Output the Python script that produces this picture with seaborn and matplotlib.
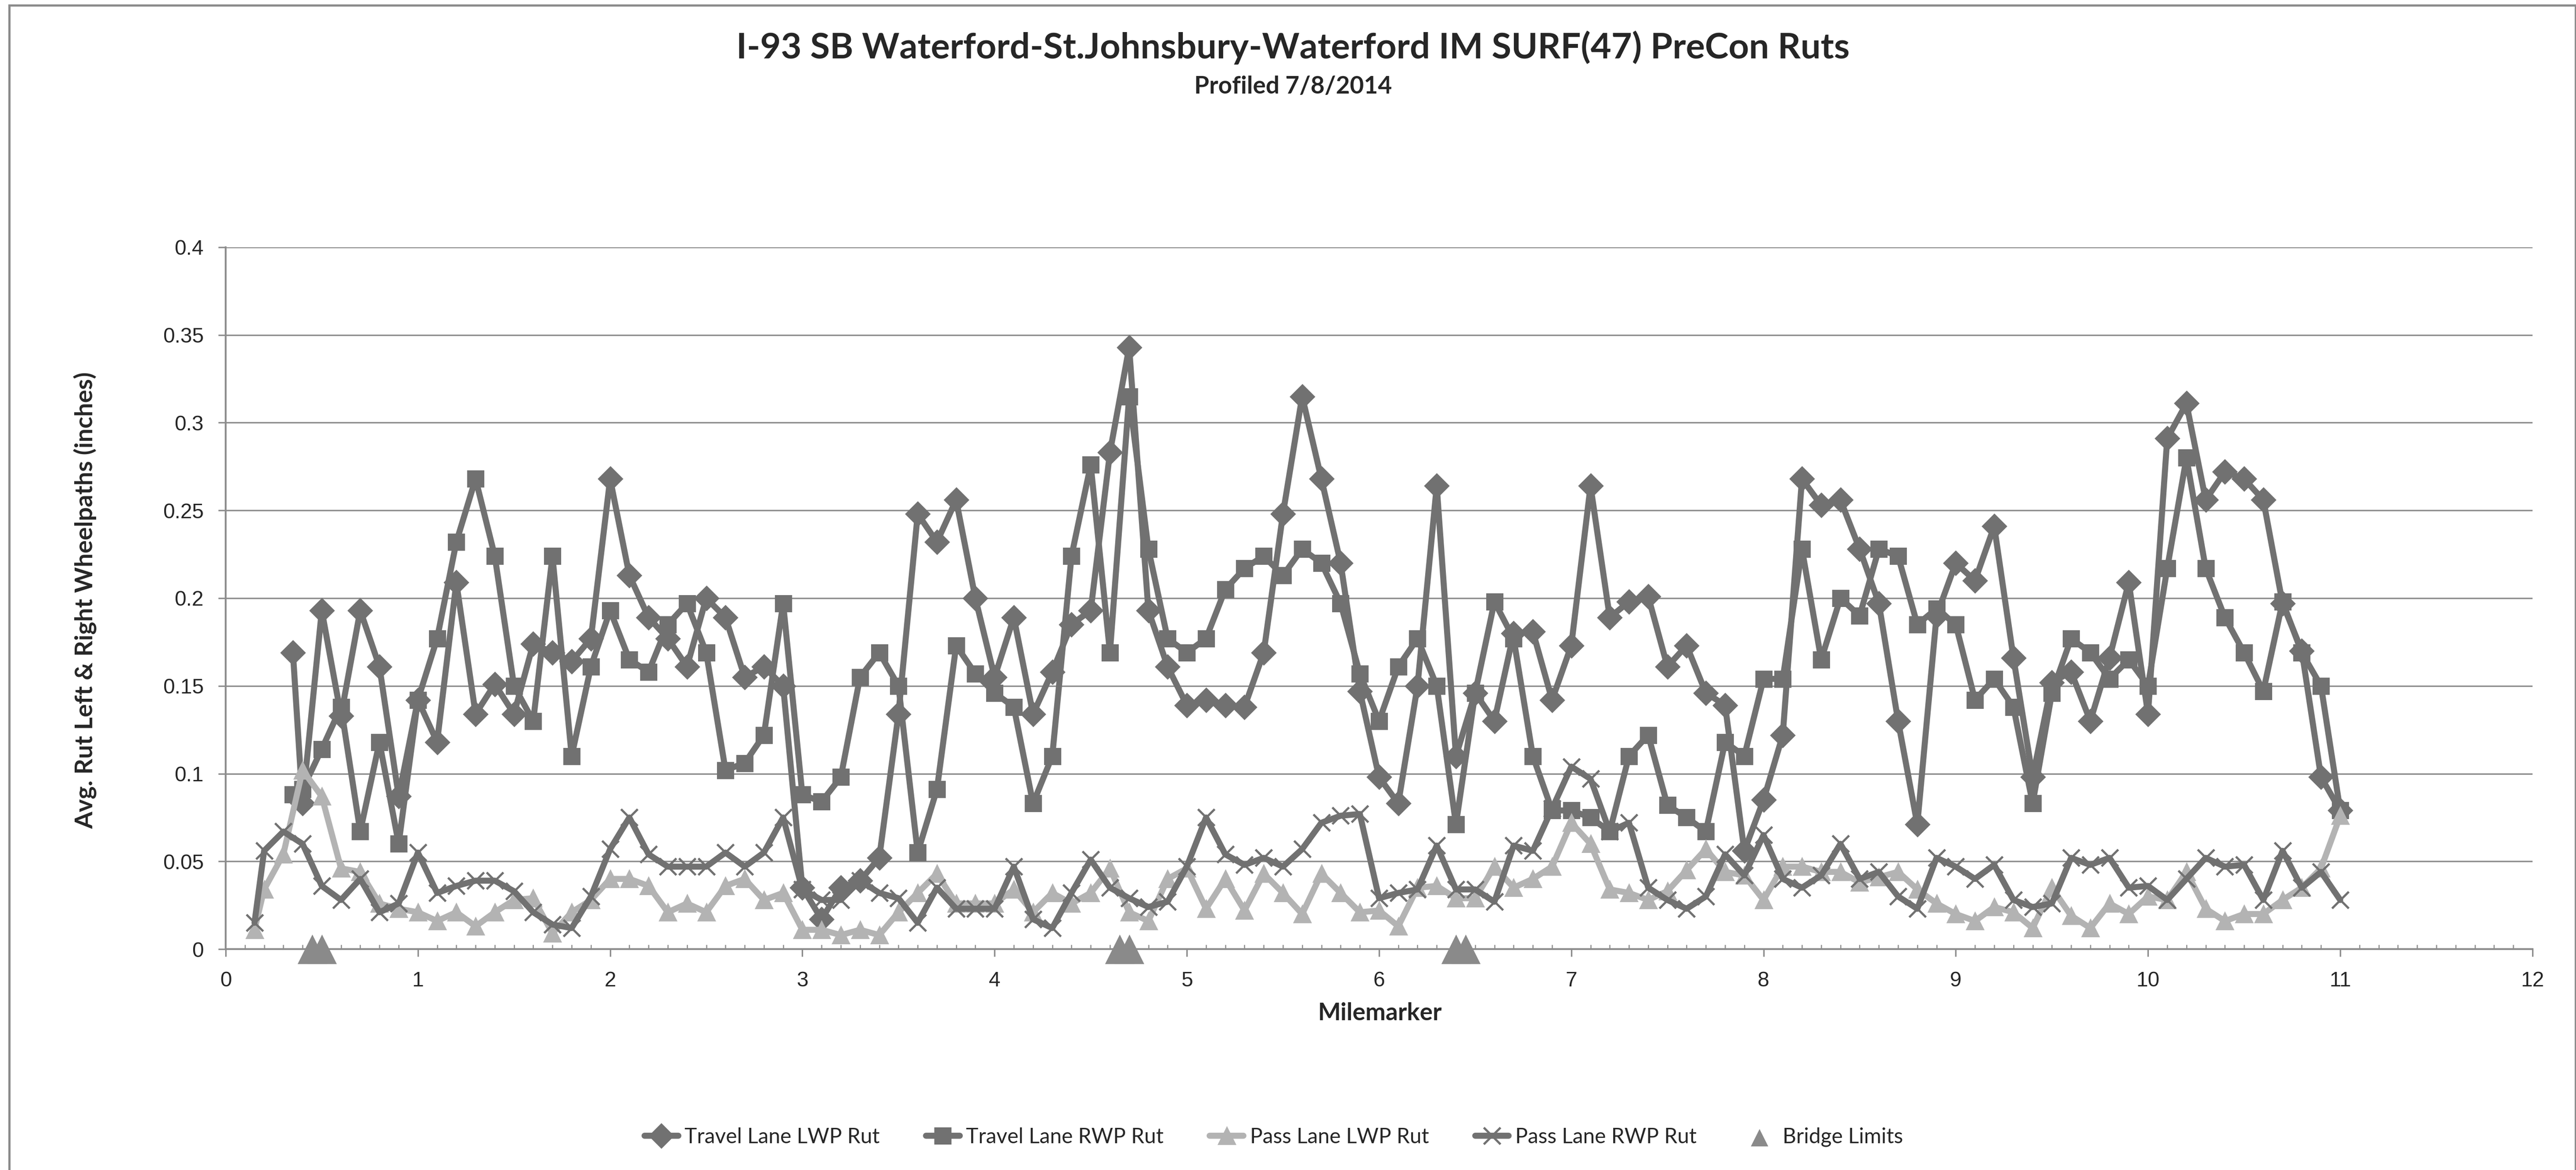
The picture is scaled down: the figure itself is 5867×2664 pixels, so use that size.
import matplotlib
matplotlib.use("Agg")
import matplotlib.pyplot as plt
import seaborn as sns
from matplotlib.patches import Rectangle

# mile markers for travel lanes (first reading at 0.35)
travel_miles = [0.35, 0.4, 0.5, 0.6, 0.7, 0.8, 0.9, 1.0, 1.1, 1.2, 1.3, 1.4, 1.5, 1.6, 1.7, 1.8, 1.9,
                2.0, 2.1, 2.2, 2.3, 2.4, 2.5, 2.6, 2.7, 2.8, 2.9, 3.0, 3.1, 3.2, 3.3, 3.4, 3.5, 3.6, 3.7, 3.8, 3.9,
                4.0, 4.1, 4.2, 4.3, 4.4, 4.5, 4.6, 4.7, 4.8, 4.9, 5.0, 5.1, 5.2, 5.3, 5.4, 5.5, 5.6, 5.7, 5.8, 5.9,
                6.0, 6.1, 6.2, 6.3, 6.4, 6.5, 6.6, 6.7, 6.8, 6.9, 7.0, 7.1, 7.2, 7.3, 7.4, 7.5, 7.6, 7.7, 7.8, 7.9,
                8.0, 8.1, 8.2, 8.3, 8.4, 8.5, 8.6, 8.7, 8.8, 8.9, 9.0, 9.1, 9.2, 9.3, 9.4, 9.5, 9.6, 9.7, 9.8, 9.9,
                10.0, 10.1, 10.2, 10.3, 10.4, 10.5, 10.6, 10.7, 10.8, 10.9, 11.0]

travel_lwp = [0.169, 0.083, 0.193, 0.133, 0.193, 0.161, 0.087, 0.142, 0.118, 0.209, 0.134, 0.151, 0.134, 0.174, 0.169, 0.164, 0.177,
              0.268, 0.213, 0.189, 0.177, 0.161, 0.200, 0.189, 0.155, 0.161, 0.150, 0.035, 0.017, 0.035, 0.039, 0.052, 0.134, 0.248, 0.232, 0.256, 0.200,
              0.155, 0.189, 0.134, 0.158, 0.185, 0.193, 0.283, 0.343, 0.193, 0.161, 0.139, 0.142, 0.139, 0.138, 0.169, 0.248, 0.315, 0.268, 0.220, 0.147,
              0.098, 0.083, 0.150, 0.264, 0.110, 0.146, 0.130, 0.180, 0.181, 0.142, 0.173, 0.264, 0.189, 0.198, 0.201, 0.161, 0.173, 0.146, 0.139, 0.056,
              0.085, 0.122, 0.268, 0.253, 0.256, 0.228, 0.197, 0.130, 0.071, 0.190, 0.220, 0.210, 0.241, 0.166, 0.098, 0.152, 0.158, 0.130, 0.166, 0.209,
              0.134, 0.291, 0.311, 0.256, 0.272, 0.268, 0.256, 0.197, 0.170, 0.098, 0.079]

travel_rwp = [0.088, 0.091, 0.114, 0.138, 0.067, 0.118, 0.060, 0.142, 0.177, 0.232, 0.268, 0.224, 0.150, 0.130, 0.224, 0.110, 0.161,
              0.193, 0.165, 0.158, 0.185, 0.197, 0.169, 0.102, 0.106, 0.122, 0.197, 0.088, 0.084, 0.098, 0.155, 0.169, 0.150, 0.055, 0.091, 0.173, 0.157,
              0.146, 0.138, 0.083, 0.110, 0.224, 0.276, 0.169, 0.315, 0.228, 0.177, 0.169, 0.177, 0.205, 0.217, 0.224, 0.213, 0.228, 0.220, 0.197, 0.157,
              0.130, 0.161, 0.177, 0.150, 0.071, 0.146, 0.198, 0.177, 0.110, 0.079, 0.079, 0.075, 0.067, 0.110, 0.122, 0.082, 0.075, 0.067, 0.118, 0.110,
              0.154, 0.154, 0.228, 0.165, 0.200, 0.190, 0.228, 0.224, 0.185, 0.194, 0.185, 0.142, 0.154, 0.138, 0.083, 0.146, 0.177, 0.169, 0.154, 0.165,
              0.150, 0.217, 0.280, 0.217, 0.189, 0.169, 0.147, 0.198, 0.169, 0.150, 0.079]

# mile markers for passing lane (first reading at 0.15)
pass_miles = [0.15, 0.2, 0.3, 0.4, 0.5, 0.6, 0.7, 0.8, 0.9, 1.0, 1.1, 1.2, 1.3, 1.4, 1.5, 1.6, 1.7, 1.8, 1.9,
              2.0, 2.1, 2.2, 2.3, 2.4, 2.5, 2.6, 2.7, 2.8, 2.9, 3.0, 3.1, 3.2, 3.3, 3.4, 3.5, 3.6, 3.7, 3.8, 3.9,
              4.0, 4.1, 4.2, 4.3, 4.4, 4.5, 4.6, 4.7, 4.8, 4.9, 5.0, 5.1, 5.2, 5.3, 5.4, 5.5, 5.6, 5.7, 5.8, 5.9,
              6.0, 6.1, 6.2, 6.3, 6.4, 6.5, 6.6, 6.7, 6.8, 6.9, 7.0, 7.1, 7.2, 7.3, 7.4, 7.5, 7.6, 7.7, 7.8, 7.9,
              8.0, 8.1, 8.2, 8.3, 8.4, 8.5, 8.6, 8.7, 8.8, 8.9, 9.0, 9.1, 9.2, 9.3, 9.4, 9.5, 9.6, 9.7, 9.8, 9.9,
              10.0, 10.1, 10.2, 10.3, 10.4, 10.5, 10.6, 10.7, 10.8, 10.9, 11.0]

pass_lwp = [0.011, 0.034, 0.054, 0.102, 0.087, 0.046, 0.044, 0.026, 0.023, 0.021, 0.016, 0.021, 0.013, 0.021, 0.028, 0.029, 0.009, 0.021, 0.028,
            0.040, 0.040, 0.036, 0.021, 0.026, 0.021, 0.036, 0.040, 0.028, 0.032, 0.011, 0.011, 0.008, 0.011, 0.008, 0.021, 0.032, 0.043, 0.026, 0.026,
            0.026, 0.034, 0.021, 0.032, 0.026, 0.032, 0.046, 0.021, 0.016, 0.040, 0.046, 0.023, 0.040, 0.022, 0.043, 0.032, 0.020, 0.043, 0.032, 0.021,
            0.022, 0.013, 0.035, 0.036, 0.029, 0.029, 0.047, 0.035, 0.040, 0.047, 0.072, 0.060, 0.034, 0.032, 0.028, 0.033, 0.045, 0.057, 0.044, 0.042,
            0.028, 0.047, 0.047, 0.044, 0.044, 0.038, 0.041, 0.044, 0.034, 0.026, 0.020, 0.016, 0.024, 0.021, 0.012, 0.035, 0.019, 0.012, 0.026, 0.020,
            0.030, 0.028, 0.044, 0.023, 0.016, 0.020, 0.020, 0.028, 0.035, 0.046, 0.076]

pass_rwp = [0.015, 0.056, 0.067, 0.060, 0.036, 0.028, 0.040, 0.021, 0.026, 0.055, 0.032, 0.036, 0.039, 0.039, 0.033, 0.021, 0.014, 0.012, 0.030,
            0.057, 0.075, 0.054, 0.047, 0.047, 0.047, 0.055, 0.047, 0.055, 0.075, 0.034, 0.028, 0.028, 0.039, 0.032, 0.029, 0.015, 0.035, 0.023, 0.023,
            0.023, 0.047, 0.017, 0.012, 0.032, 0.051, 0.035, 0.029, 0.024, 0.027, 0.047, 0.075, 0.054, 0.048, 0.052, 0.047, 0.057, 0.072, 0.076, 0.077,
            0.029, 0.032, 0.034, 0.059, 0.034, 0.034, 0.027, 0.059, 0.056, 0.080, 0.104, 0.097, 0.067, 0.072, 0.035, 0.028, 0.023, 0.030, 0.054, 0.042,
            0.065, 0.040, 0.035, 0.042, 0.060, 0.040, 0.044, 0.030, 0.023, 0.052, 0.047, 0.040, 0.048, 0.028, 0.024, 0.026, 0.052, 0.048, 0.052, 0.035,
            0.036, 0.028, 0.040, 0.052, 0.047, 0.048, 0.028, 0.056, 0.035, 0.044, 0.028]

bridge_miles = [0.45, 0.5, 4.65, 4.7, 6.4, 6.45]
bridge_vals = [0, 0, 0, 0, 0, 0]

sns.set_style("white")
plt.rcParams['font.family'] = ['Liberation Sans', 'DejaVu Sans']

dark = '#717171'
light = '#b3b3b3'
bridge_col = '#8a8a8a'
grid_col = '#8c8c8c'

fig = plt.figure(figsize=(5867 / 300, 2664 / 300), dpi=300)
ax = fig.add_axes([0.0876, 0.1888, 0.8955, 0.5999])

lw = 3.3
line_kw = dict(ax=ax, sort=False, lw=lw, solid_joinstyle='round', solid_capstyle='round', zorder=3)
sns.lineplot(x=travel_miles, y=travel_lwp, color=dark, marker='D', markersize=9,
             markeredgecolor=dark, label='Travel Lane LWP Rut', **line_kw)
sns.lineplot(x=travel_miles, y=travel_rwp, color=dark, marker='s', markersize=8.5,
             markeredgecolor=dark, label='Travel Lane RWP Rut', **line_kw)
sns.lineplot(x=pass_miles, y=pass_lwp, color=light, marker='^', markersize=9,
             markeredgecolor=light, label='Pass Lane LWP Rut', **line_kw)
sns.lineplot(x=pass_miles, y=pass_rwp, color=dark, marker='x', markersize=9, markeredgewidth=1.2,
             markeredgecolor=dark, label='Pass Lane RWP Rut', **line_kw)
sns.scatterplot(x=bridge_miles, y=bridge_vals, ax=ax, marker='^', s=260, color=bridge_col,
                linewidth=0, clip_on=False, label='Bridge Limits', zorder=4)

ax.set_xlim(0, 12)
ax.set_ylim(0, 0.4)
ax.set_xticks(range(0, 13))
ax.set_xticks([i / 10 for i in range(0, 121)], minor=True)
ax.set_yticks([0, 0.05, 0.1, 0.15, 0.2, 0.25, 0.3, 0.35, 0.4])
ax.set_yticklabels(['0', '0.05', '0.1', '0.15', '0.2', '0.25', '0.3', '0.35', '0.4'])
ax.yaxis.grid(True, color=grid_col, lw=0.8)
ax.xaxis.grid(False)
ax.set_axisbelow(True)

for side in ['top', 'right']:
    ax.spines[side].set_visible(False)
for side in ['left', 'bottom']:
    ax.spines[side].set_color(grid_col)
    ax.spines[side].set_linewidth(1.0)

ax.tick_params(axis='y', which='major', direction='out', length=4, width=0.8, color=grid_col,
               labelsize=11.5, pad=8, left=True)
ax.tick_params(axis='x', which='major', direction='out', length=4, width=0.8, color=grid_col,
               labelsize=11.5, pad=8, bottom=True)
ax.tick_params(axis='x', which='minor', direction='in', length=2.5, width=0.6, color=grid_col, bottom=True)

label_font = ['Lato', 'DejaVu Sans']
ax.set_xlabel('')
ax.set_ylabel('')
fig.text(0.5357, 0.134, 'Milemarker', ha='center', va='center', fontsize=13.2,
         fontweight='bold', family=label_font)
fig.text(0.0332, 0.487, 'Avg. Rut Left & Right Wheelpaths (inches)', ha='center', va='center',
         rotation=90, fontsize=13.4, fontweight='bold', family=label_font)

fig.text(0.502, 0.9595, 'I-93 SB Waterford-St.Johnsbury-Waterford IM SURF(47) PreCon Ruts',
         ha='center', va='center', fontsize=19.5, fontweight='bold', family=label_font)
fig.text(0.502, 0.926, 'Profiled 7/8/2014', ha='center', va='center', fontsize=13.2,
         fontweight='bold', family=label_font)

handles, labels = ax.get_legend_handles_labels()
ax.get_legend().remove()
leg = fig.legend(handles, labels, loc='center', bbox_to_anchor=(0.4945, 0.0282), ncol=5,
                 frameon=False, prop={'family': label_font, 'size': 11.5},
                 handlelength=1.6, columnspacing=2.2, handletextpad=0.3)
# the bridge marker is small in the legend
leg.legend_handles[4].set_sizes([90])

# outer chart border
fig.add_artist(Rectangle((21 / 5867, -0.01), 1 - 22 / 5867, 1 - 12 / 2664 + 0.01,
                         transform=fig.transFigure, fill=False, edgecolor=grid_col, lw=1.2))

fig.savefig('out.png', dpi=300)
